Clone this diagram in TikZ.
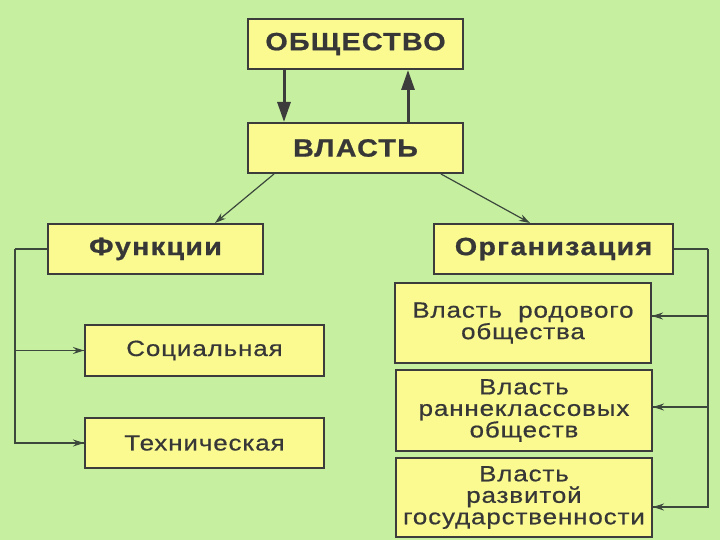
\documentclass[tikz,border=0pt]{standalone}
\usepackage{fontspec}
\newfontfamily\boxbold[LetterSpace=5,FakeStretch=1.15,FakeBold=0.8]{Liberation Sans Bold}
\newfontfamily\boxreg[LetterSpace=4,FakeStretch=1.18,FakeBold=0.6]{Liberation Sans}
\usetikzlibrary{arrows.meta}
\definecolor{bg}{RGB}{198,239,160}
\definecolor{boxfill}{RGB}{250,250,145}
\definecolor{edge}{RGB}{60,60,60}
\definecolor{txt}{RGB}{55,55,55}
\definecolor{link}{RGB}{60,72,60}
\tikzset{
  boxb/.style={draw=edge,line width=2pt,fill=boxfill,text=txt,inner sep=0pt,align=center,
    font={\boxbold\fontsize{25}{26}\selectfont}},
  boxr/.style={draw=edge,line width=2pt,fill=boxfill,text=txt,inner sep=0pt,align=center,
    font={\boxreg\fontsize{22}{21.5}\selectfont}},
  bigarrow/.style={draw=edge,line width=3pt,-{Triangle[length=20pt,width=13pt]}},
  thinarrow/.style={draw=link,line width=1.2pt,-{Stealth[length=11pt,width=7pt]}},
  bracket/.style={draw=link,line width=1.6pt}
}
\begin{document}
\begin{tikzpicture}[x=1pt,y=-1pt]
\fill[bg] (0,0) rectangle (720,540);
\useasboundingbox (0,0) rectangle (720,540);
\node[boxb,minimum width=215pt,minimum height=50pt] (ob) at (355.5,44) {ОБЩЕСТВО};
\node[boxb,minimum width=215pt,minimum height=50pt] (vl) at (355.5,148) {ВЛАСТЬ};
\node[boxb,minimum width=215pt,minimum height=50pt] (fn) at (155.5,249) {Функции};
\node[boxb,minimum width=239pt,minimum height=50pt] (org) at (553.5,249) {Организация};
\node[boxr,minimum width=239pt,minimum height=51pt] (soc) at (204.5,350.5) {Социальная};
\node[boxr,minimum width=239pt,minimum height=50pt] (tech) at (204.5,443) {Техническая};
\node[boxr,minimum width=256pt,minimum height=80pt] (b1) at (523,323) {Власть\ \ родового\\общества};
\node[boxr,minimum width=256pt,minimum height=81pt] (b2) at (524,410.5) {Власть\\раннеклассовых\\обществ};
\node[boxr,minimum width=256pt,minimum height=79pt] (b3) at (524,497.5) {Власть\\развитой\\государственности};
% big arrows
\draw[bigarrow] (284,0 |- ob.south) -- (284,0 |- vl.north);
\draw[bigarrow] (408,0 |- vl.north) -- (408,0 |- ob.south);
% diagonals
\draw[thinarrow] ([xshift=27pt]vl.south west) -- ([xshift=59.5pt]fn.north);
\draw[thinarrow] ([xshift=-23pt]vl.south east) -- ([xshift=-23.5pt]org.north);
% left bracket
\coordinate (lc) at (15,249);
\draw[bracket] (fn.west) -- (lc);
\draw[bracket] (lc) |- (soc.west);
\draw[bracket] (lc) |- (tech.west);
\draw[thinarrow] (60,0 |- soc.west) -- (soc.west);
\draw[thinarrow] (60,0 |- tech.west) -- (tech.west);
% right bracket
\coordinate (rc) at (708,249);
\draw[bracket] (org.east) -- (rc);
\draw[bracket] (rc) |- (708,316) -- (b1.east |- 0,316);
\draw[bracket] (rc) |- (708,407) -- (b2.east |- 0,407);
\draw[bracket] (rc) |- (708,507) -- (b3.east |- 0,507);
\draw[thinarrow] (690,316) -- (b1.east |- 0,316);
\draw[thinarrow] (690,407) -- (b2.east |- 0,407);
\draw[thinarrow] (690,507) -- (b3.east |- 0,507);
\end{tikzpicture}
\end{document}
